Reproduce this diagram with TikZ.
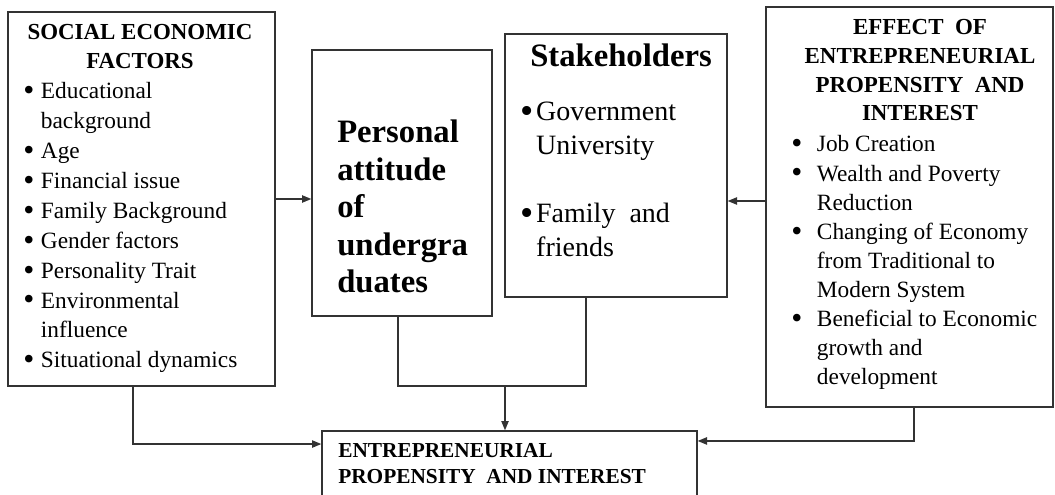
\documentclass[tikz,border=0pt]{standalone}
\usepackage{fontspec}
\setmainfont{Liberation Serif}
\usetikzlibrary{arrows.meta}

% a heavier list bullet
\newcommand{\bul}{\smash{\raisebox{-0.08em}{\scalebox{1.35}{\textbullet}}}}

\tikzset{
  box/.style={draw=black!80, line width=1pt, inner sep=0pt},
  line/.style={draw=black!80, line width=1pt},
  arr/.style={line, -{Triangle[length=7pt,width=5.5pt]}},
  txt/.style={anchor=base west, inner sep=0pt},
  head/.style={anchor=base, inner sep=0pt, font=\bfseries\fontsize{17.2}{21.5}\selectfont},
}

\begin{document}
\begin{tikzpicture}[x=0.75pt, y=-0.75pt]
    \useasboundingbox (0,0) rectangle (1055,495);

    % the five boxes
    \node[box, minimum width=200.25pt, minimum height=280.5pt] (social) at (141.5,199) {};
    \node[box, minimum width=135pt, minimum height=199.5pt] (personal) at (402,183) {};
    \node[box, minimum width=166.5pt, minimum height=197.25pt] (stake) at (616,165.5) {};
    \node[box, minimum width=215.25pt, minimum height=300pt] (effect) at (909.5,207) {};
    \node[box, minimum width=281.25pt, minimum height=66.75pt] (epi) at (509.5,475.5) {};

    % left box
    \node[head] (socialhead) at (140,40)
      {\begin{tabular}[t]{@{}c@{}}SOCIAL ECONOMIC\\FACTORS\end{tabular}};
    \node[txt, font=\fontsize{17.5}{22.4}\selectfont] (sociallist) at (23,99) {%
      \begin{tabular}[t]{@{}l@{\hspace{5pt}}l@{}}
        \bul & Educational\\
             & background\\
        \bul & Age\\
        \bul & Financial issue\\
        \bul & Family Background\\
        \bul & Gender factors\\
        \bul & Personality Trait\\
        \bul & Environmental\\
             & influence\\
        \bul & Situational dynamics
      \end{tabular}};

    % middle boxes
    \node[txt, font=\bfseries\fontsize{24.5}{28.1}\selectfont] (personaltext) at (337,143) {%
      \begin{tabular}[t]{@{}l@{}}Personal\\attitude\\of\\undergra\\duates\end{tabular}};

    \node[txt, font=\bfseries\fontsize{24.5}{28}\selectfont] (stakehead) at (530,67) {Stakeholders};
    \node[txt, font=\fontsize{21}{25.5}\selectfont] (stakelist) at (520,121) {%
      \begin{tabular}[t]{@{}l@{\hspace{2pt}}l@{}}
        \bul & Government\\
             & University\\
             & \\
        \bul & Family\ \ and\\
             & friends
      \end{tabular}};

    % right box
    \node[head] (effecthead) at (920,35)
      {\begin{tabular}[t]{@{}c@{}}EFFECT\ \ OF\\ENTREPRENEURIAL\\PROPENSITY\ \ AND\\INTEREST\end{tabular}};
    \node[txt, font=\fontsize{17.5}{21.8}\selectfont] (effectlist) at (791,152) {%
      \begin{tabular}[t]{@{}l@{\hspace{11pt}}l@{}}
        \bul & Job Creation\\
        \bul & Wealth and Poverty\\
             & Reduction\\
        \bul & Changing of Economy\\
             & from Traditional to\\
             & Modern System\\
        \bul & Beneficial to Economic\\
             & growth and\\
             & development
      \end{tabular}};

    % bottom box
    \node[txt, font=\bfseries\fontsize{16}{19.5}\selectfont] (epitext) at (338,457) {%
      \begin{tabular}[t]{@{}l@{}}ENTREPRENEURIAL\\PROPENSITY\ \ AND INTEREST\end{tabular}};

    % connectors
    \coordinate (join) at (505,386);
    \draw[arr] (social.east) -- (social.east -| personal.west);
    \draw[arr] ([yshift=4.5pt]effect.west) -- ([yshift=4.5pt]effect.west -| stake.east);
    \draw[arr] ([xshift=-6.4pt]social.south) |- ([yshift=23.6pt]epi.west);
    \draw[line] ([xshift=-3pt]personal.south) |- (join) -| ([xshift=-22.5pt]stake.south);
    \draw[arr] (join) -- (join |- epi.north);
    \draw[arr] ([xshift=3.4pt]effect.south) |- ([yshift=25.9pt]epi.east);
\end{tikzpicture}
\end{document}
